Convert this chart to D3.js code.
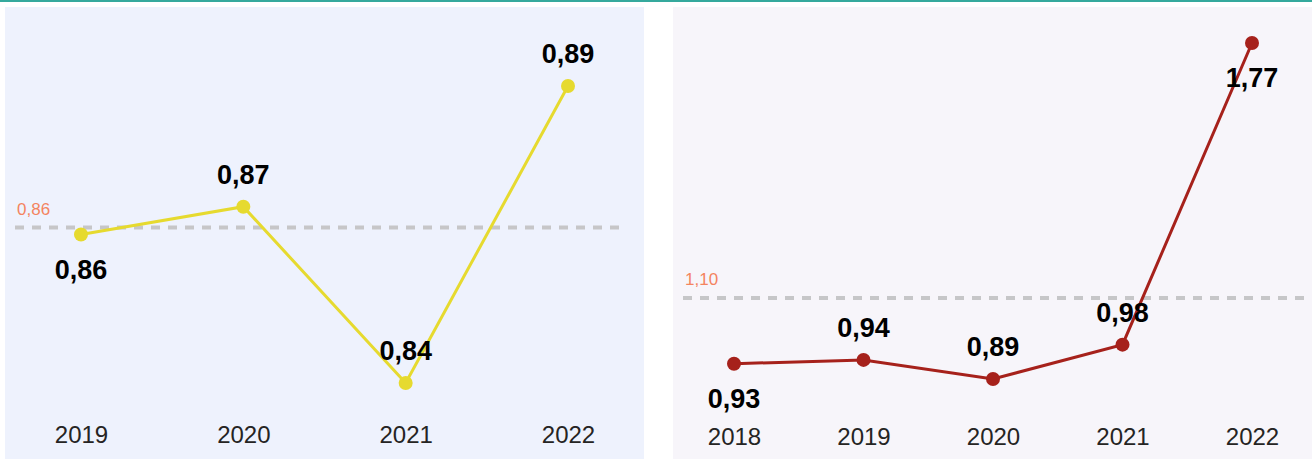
<!DOCTYPE html>
<html>
<head>
<meta charset="utf-8">
<script src="https://cdn.jsdelivr.net/npm/d3@7"></script>
<style>
  html, body { margin: 0; padding: 0; background: #ffffff; }
  svg { display: block; }
</style>
</head>
<body>
<svg id="chart" width="1312" height="459"></svg>
<script>
// ---- data ----
const leftYears = ["2019", "2020", "2021", "2022"];
const leftValues = [0.8637, 0.8686, 0.8375, 0.8899];
const leftLabelPlacement = ["below", "above", "above", "above"];

const rightYears = ["2018", "2019", "2020", "2021", "2022"];
const rightValues = [0.93, 0.94, 0.89, 0.98, 1.77];
const rightLabelPlacement = ["below", "above", "above", "above", "below"];

const fmt = v => d3.format(".2f")(v).replace(".", ",");

const svg = d3.select("#chart");

// top teal rule
svg.append("rect").attr("x", 0).attr("y", 0).attr("width", 1312).attr("height", 2).attr("fill", "#35a99d");

function drawPanel(cfg) {
  const g = svg.append("g");
  g.append("rect")
    .attr("x", cfg.panel[0]).attr("y", cfg.panel[1])
    .attr("width", cfg.panel[2]).attr("height", cfg.panel[3])
    .attr("fill", cfg.bg);

  const x = d3.scalePoint().domain(cfg.years).range(cfg.xRange);
  const y = d3.scaleLinear().domain(d3.extent(cfg.values)).range(cfg.yRange);
  const avg = d3.mean(cfg.values);

  // average reference line
  g.append("line")
    .attr("x1", cfg.refX[0]).attr("x2", cfg.refX[1])
    .attr("y1", y(avg)).attr("y2", y(avg))
    .attr("stroke", "#c6c6c8").attr("stroke-width", 4)
    .attr("stroke-dasharray", "9,8");
  g.append("text")
    .attr("x", cfg.refX[0] + 2).attr("y", y(avg) - 13)
    .attr("font-family", "Liberation Sans, Arial, sans-serif")
    .attr("font-size", 17).attr("fill", "#f4845f")
    .text(fmt(avg));

  // x axis labels
  const xAxis = d3.axisBottom(x).tickSize(0).tickPadding(0);
  const ax = g.append("g").attr("transform", `translate(0,${cfg.axisY})`).call(xAxis);
  ax.select(".domain").remove();
  ax.selectAll("text")
    .attr("font-family", "Liberation Sans, Arial, sans-serif")
    .attr("font-size", 24).attr("fill", "#252423").attr("dy", 0);

  const pts = cfg.years.map((yr, i) => ({ yr, v: cfg.values[i], pos: cfg.place[i] }));

  g.append("path").datum(pts)
    .attr("fill", "none").attr("stroke", cfg.color).attr("stroke-width", 3)
    .attr("d", d3.line().x(d => x(d.yr)).y(d => y(d.v)));

  g.selectAll("circle.pt").data(pts).join("circle")
    .attr("cx", d => x(d.yr)).attr("cy", d => y(d.v)).attr("r", 7)
    .attr("fill", cfg.color);

  g.selectAll("text.lbl").data(pts).join("text")
    .attr("class", "lbl")
    .attr("x", d => x(d.yr))
    .attr("y", d => y(d.v) + (d.pos === "above" ? -23 : 44))
    .attr("text-anchor", "middle")
    .attr("font-family", "Liberation Sans, Arial, sans-serif")
    .attr("font-weight", "bold").attr("font-size", 27)
    .attr("fill", "#000000")
    .text(d => fmt(d.v));
}

drawPanel({
  panel: [5, 7, 639, 452], bg: "#eef2fd",
  years: leftYears, values: leftValues, place: leftLabelPlacement,
  xRange: [81, 568], yRange: [383, 86], refX: [15, 626],
  axisY: 443, color: "#e6da2f"
});

drawPanel({
  panel: [673, 7, 639, 452], bg: "#f7f5fa",
  years: rightYears, values: rightValues, place: rightLabelPlacement,
  xRange: [734, 1252], yRange: [379, 43], refX: [683, 1306],
  axisY: 445, color: "#a6211b"
});
</script>
</body>
</html>
